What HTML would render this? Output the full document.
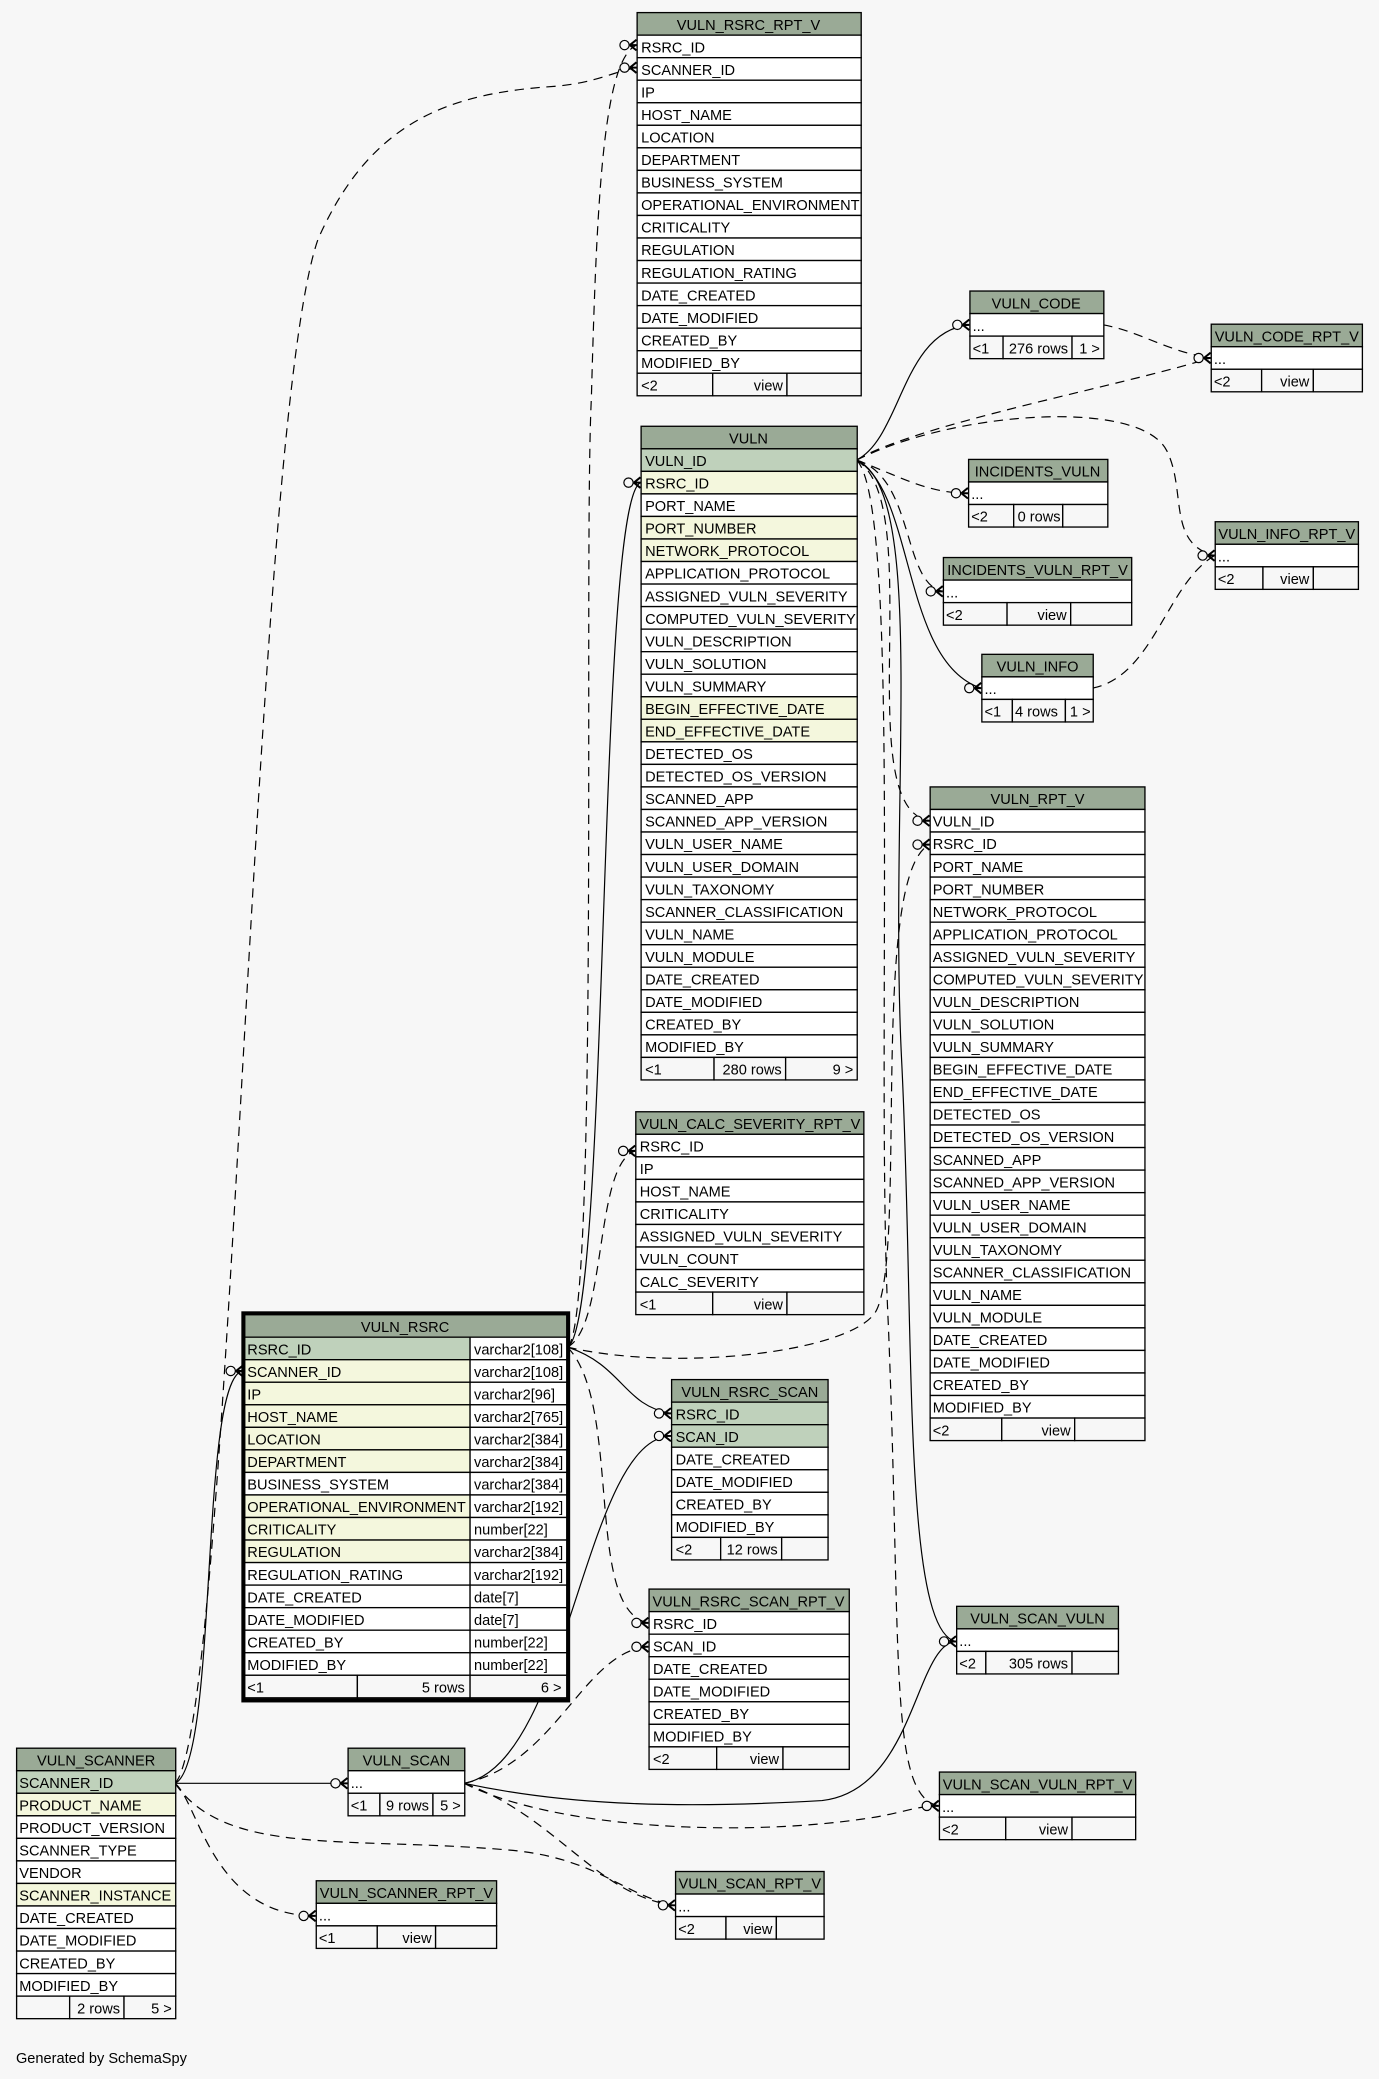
<!DOCTYPE html>
<html><head><meta charset="utf-8"><style>
html,body{margin:0;padding:0;background:#f7f7f7;}
svg{display:block;}
text{font-family:"Liberation Sans","DejaVu Sans",sans-serif;font-size:11px;fill:#000;}
.c{text-anchor:middle;}
.r{text-anchor:end;}
rect{stroke:#000;stroke-width:1;}
.h{fill:#9aaa96;}.p{fill:#bfd1bb;}.f{fill:#f4f7dd;}.w{fill:#fff;}.g{fill:#f7f7f7;}
path{fill:none;stroke:#000;stroke-width:0.9;}
.d{stroke-dasharray:7,5;}
</style></head><body>
<svg width="1379" height="2079" viewBox="0 0 1040 1568" xmlns="http://www.w3.org/2000/svg">
<defs>
<g id="cf"><circle cx="-9" cy="0" r="3.5" fill="#f7f7f7" stroke="#000" stroke-width="0.9"/><path d="M-5,0 L0,-4 M-5,0 L0,0 M-5,0 L0,4" style="stroke-width:1.5"/></g>
</defs>

<!-- connectors -->
<path class="d" d="M132,1345 C175,1300 190,320 240,180 C280,90 340,70 420,65 C450,62 460,55 480,51"/>
<path class="d" d="M428,1016 C452,1000 440,420 446,300 C450,150 455,45 480,34"/>
<path d="M428,1016 C460,1000 450,380 483,364"/>
<path class="d" d="M428,1016 C458,1000 448,878 479,868"/>
<path d="M428,1016 C470,1030 470,1060 506,1066"/>
<path class="d" d="M428,1016 C510,1035 640,1020 660,990 C685,950 655,660 701,637"/>
<path class="d" d="M428,1016 C470,1060 440,1215 489,1224"/>
<path d="M132,1345 C165,1330 150,1040 183,1034"/>
<path d="M132,1345 L262,1345"/>
<path class="d" d="M132,1345 C150,1360 160,1445 238,1445"/>
<path class="d" d="M132,1345 C170,1400 260,1385 380,1395 C450,1400 470,1430 509,1437"/>
<path d="M350,1345 C430,1330 440,1085 506,1083"/>
<path class="d" d="M350,1345 C420,1330 440,1245 489,1242"/>
<path class="d" d="M350,1345 C420,1370 450,1430 509,1437"/>
<path d="M350,1345 C420,1360 500,1365 620,1358 C690,1350 690,1240 721,1238"/>
<path class="d" d="M350,1345 C420,1380 560,1385 650,1372 C680,1368 690,1362 708,1362"/>
<path d="M646,347 C680,330 680,250 731,245"/>
<path d="M646,347 C690,370 680,500 740,519"/>
<path d="M646,347 C700,370 670,600 680,800 C690,1000 680,1230 721,1238"/>
<path class="d" d="M646,347 C690,320 850,290 913,270"/>
<path class="d" d="M832,245 C860,250 880,265 913,270"/>
<path class="d" d="M646,347 C680,360 700,372 730,372"/>
<path class="d" d="M646,347 C690,360 680,440 711,446"/>
<path class="d" d="M646,347 C720,310 860,300 880,340 C895,370 880,410 916,419"/>
<path class="d" d="M824,519 C870,510 880,440 916,419"/>
<path class="d" d="M646,347 C700,380 640,610 701,619"/>
<path class="d" d="M646,347 C680,380 660,800 670,1000 C680,1250 670,1355 708,1362"/>

<use href="#cf" x="480" y="51"/><use href="#cf" x="480" y="34"/><use href="#cf" x="483" y="364"/>
<use href="#cf" x="479" y="868"/><use href="#cf" x="506" y="1066"/><use href="#cf" x="506" y="1083"/>
<use href="#cf" x="701" y="637"/><use href="#cf" x="701" y="619"/><use href="#cf" x="489" y="1224"/><use href="#cf" x="489" y="1242"/>
<use href="#cf" x="183" y="1034"/><use href="#cf" x="262" y="1345"/><use href="#cf" x="238" y="1445"/>
<use href="#cf" x="509" y="1437"/><use href="#cf" x="721" y="1238"/><use href="#cf" x="708" y="1362"/>
<use href="#cf" x="731" y="245"/><use href="#cf" x="740" y="519"/><use href="#cf" x="913" y="270"/>
<use href="#cf" x="730" y="372"/><use href="#cf" x="711" y="446"/><use href="#cf" x="916" y="419"/>

<!-- VULN_RSRC_RPT_V -->
<g transform="translate(480.5,9.5)">
<rect class="h" width="169" height="17"/><text class="c" x="84" y="13">VULN_RSRC_RPT_V</text>
<rect class="w" y="17" width="169" height="17"/><text x="3" y="30">RSRC_ID</text>
<rect class="w" y="34" width="169" height="17"/><text x="3" y="47">SCANNER_ID</text>
<rect class="w" y="51" width="169" height="17"/><text x="3" y="64">IP</text>
<rect class="w" y="68" width="169" height="17"/><text x="3" y="81">HOST_NAME</text>
<rect class="w" y="85" width="169" height="17"/><text x="3" y="98">LOCATION</text>
<rect class="w" y="102" width="169" height="17"/><text x="3" y="115">DEPARTMENT</text>
<rect class="w" y="119" width="169" height="17"/><text x="3" y="132">BUSINESS_SYSTEM</text>
<rect class="w" y="136" width="169" height="17"/><text x="3" y="149">OPERATIONAL_ENVIRONMENT</text>
<rect class="w" y="153" width="169" height="17"/><text x="3" y="166">CRITICALITY</text>
<rect class="w" y="170" width="169" height="17"/><text x="3" y="183">REGULATION</text>
<rect class="w" y="187" width="169" height="17"/><text x="3" y="200">REGULATION_RATING</text>
<rect class="w" y="204" width="169" height="17"/><text x="3" y="217">DATE_CREATED</text>
<rect class="w" y="221" width="169" height="17"/><text x="3" y="234">DATE_MODIFIED</text>
<rect class="w" y="238" width="169" height="17"/><text x="3" y="251">CREATED_BY</text>
<rect class="w" y="255" width="169" height="17"/><text x="3" y="268">MODIFIED_BY</text>
<rect class="g" y="272" width="57" height="17"/><rect class="g" x="57" y="272" width="56" height="17"/><rect class="g" x="113" y="272" width="56" height="17"/>
<text x="3" y="285">&lt;2</text><text class="r" x="110" y="285">view</text>
</g>

<!-- VULN -->
<g transform="translate(483.5,321.5)">
<rect class="h" width="163" height="17"/><text class="c" x="81" y="13">VULN</text>
<rect class="p" y="17" width="163" height="17"/><text x="3" y="30">VULN_ID</text>
<rect class="f" y="34" width="163" height="17"/><text x="3" y="47">RSRC_ID</text>
<rect class="w" y="51" width="163" height="17"/><text x="3" y="64">PORT_NAME</text>
<rect class="f" y="68" width="163" height="17"/><text x="3" y="81">PORT_NUMBER</text>
<rect class="f" y="85" width="163" height="17"/><text x="3" y="98">NETWORK_PROTOCOL</text>
<rect class="w" y="102" width="163" height="17"/><text x="3" y="115">APPLICATION_PROTOCOL</text>
<rect class="w" y="119" width="163" height="17"/><text x="3" y="132">ASSIGNED_VULN_SEVERITY</text>
<rect class="w" y="136" width="163" height="17"/><text x="3" y="149">COMPUTED_VULN_SEVERITY</text>
<rect class="w" y="153" width="163" height="17"/><text x="3" y="166">VULN_DESCRIPTION</text>
<rect class="w" y="170" width="163" height="17"/><text x="3" y="183">VULN_SOLUTION</text>
<rect class="w" y="187" width="163" height="17"/><text x="3" y="200">VULN_SUMMARY</text>
<rect class="f" y="204" width="163" height="17"/><text x="3" y="217">BEGIN_EFFECTIVE_DATE</text>
<rect class="f" y="221" width="163" height="17"/><text x="3" y="234">END_EFFECTIVE_DATE</text>
<rect class="w" y="238" width="163" height="17"/><text x="3" y="251">DETECTED_OS</text>
<rect class="w" y="255" width="163" height="17"/><text x="3" y="268">DETECTED_OS_VERSION</text>
<rect class="w" y="272" width="163" height="17"/><text x="3" y="285">SCANNED_APP</text>
<rect class="w" y="289" width="163" height="17"/><text x="3" y="302">SCANNED_APP_VERSION</text>
<rect class="w" y="306" width="163" height="17"/><text x="3" y="319">VULN_USER_NAME</text>
<rect class="w" y="323" width="163" height="17"/><text x="3" y="336">VULN_USER_DOMAIN</text>
<rect class="w" y="340" width="163" height="17"/><text x="3" y="353">VULN_TAXONOMY</text>
<rect class="w" y="357" width="163" height="17"/><text x="3" y="370">SCANNER_CLASSIFICATION</text>
<rect class="w" y="374" width="163" height="17"/><text x="3" y="387">VULN_NAME</text>
<rect class="w" y="391" width="163" height="17"/><text x="3" y="404">VULN_MODULE</text>
<rect class="w" y="408" width="163" height="17"/><text x="3" y="421">DATE_CREATED</text>
<rect class="w" y="425" width="163" height="17"/><text x="3" y="438">DATE_MODIFIED</text>
<rect class="w" y="442" width="163" height="17"/><text x="3" y="455">CREATED_BY</text>
<rect class="w" y="459" width="163" height="17"/><text x="3" y="472">MODIFIED_BY</text>
<rect class="g" y="476" width="55" height="17"/><rect class="g" x="55" y="476" width="54" height="17"/><rect class="g" x="109" y="476" width="54" height="17"/>
<text x="3" y="489">&lt;1</text><text class="r" x="106" y="489">280 rows</text><text class="r" x="160" y="489">9 &gt;</text>
</g>

<!-- VULN_CALC_SEVERITY_RPT_V -->
<g transform="translate(479.5,838.5)">
<rect class="h" width="172" height="17"/><text class="c" x="86" y="13">VULN_CALC_SEVERITY_RPT_V</text>
<rect class="w" y="17" width="172" height="17"/><text x="3" y="30">RSRC_ID</text>
<rect class="w" y="34" width="172" height="17"/><text x="3" y="47">IP</text>
<rect class="w" y="51" width="172" height="17"/><text x="3" y="64">HOST_NAME</text>
<rect class="w" y="68" width="172" height="17"/><text x="3" y="81">CRITICALITY</text>
<rect class="w" y="85" width="172" height="17"/><text x="3" y="98">ASSIGNED_VULN_SEVERITY</text>
<rect class="w" y="102" width="172" height="17"/><text x="3" y="115">VULN_COUNT</text>
<rect class="w" y="119" width="172" height="17"/><text x="3" y="132">CALC_SEVERITY</text>
<rect class="g" y="136" width="58" height="17"/><rect class="g" x="58" y="136" width="56" height="17"/><rect class="g" x="114" y="136" width="58" height="17"/>
<text x="3" y="149">&lt;1</text><text class="r" x="111" y="149">view</text>
</g>

<!-- VULN_RSRC -->
<g transform="translate(184.5,991.5)">
<rect class="h" width="243" height="17"/><text class="c" x="121" y="13">VULN_RSRC</text>
<rect class="p" y="17" width="170" height="17"/><rect class="w" x="170" y="17" width="73" height="17"/><text x="2" y="30">RSRC_ID</text><text x="173" y="30">varchar2[108]</text>
<rect class="f" y="34" width="170" height="17"/><rect class="w" x="170" y="34" width="73" height="17"/><text x="2" y="47">SCANNER_ID</text><text x="173" y="47">varchar2[108]</text>
<rect class="f" y="51" width="170" height="17"/><rect class="w" x="170" y="51" width="73" height="17"/><text x="2" y="64">IP</text><text x="173" y="64">varchar2[96]</text>
<rect class="f" y="68" width="170" height="17"/><rect class="w" x="170" y="68" width="73" height="17"/><text x="2" y="81">HOST_NAME</text><text x="173" y="81">varchar2[765]</text>
<rect class="f" y="85" width="170" height="17"/><rect class="w" x="170" y="85" width="73" height="17"/><text x="2" y="98">LOCATION</text><text x="173" y="98">varchar2[384]</text>
<rect class="f" y="102" width="170" height="17"/><rect class="w" x="170" y="102" width="73" height="17"/><text x="2" y="115">DEPARTMENT</text><text x="173" y="115">varchar2[384]</text>
<rect class="w" y="119" width="170" height="17"/><rect class="w" x="170" y="119" width="73" height="17"/><text x="2" y="132">BUSINESS_SYSTEM</text><text x="173" y="132">varchar2[384]</text>
<rect class="f" y="136" width="170" height="17"/><rect class="w" x="170" y="136" width="73" height="17"/><text x="2" y="149">OPERATIONAL_ENVIRONMENT</text><text x="173" y="149">varchar2[192]</text>
<rect class="f" y="153" width="170" height="17"/><rect class="w" x="170" y="153" width="73" height="17"/><text x="2" y="166">CRITICALITY</text><text x="173" y="166">number[22]</text>
<rect class="f" y="170" width="170" height="17"/><rect class="w" x="170" y="170" width="73" height="17"/><text x="2" y="183">REGULATION</text><text x="173" y="183">varchar2[384]</text>
<rect class="w" y="187" width="170" height="17"/><rect class="w" x="170" y="187" width="73" height="17"/><text x="2" y="200">REGULATION_RATING</text><text x="173" y="200">varchar2[192]</text>
<rect class="w" y="204" width="170" height="17"/><rect class="w" x="170" y="204" width="73" height="17"/><text x="2" y="217">DATE_CREATED</text><text x="173" y="217">date[7]</text>
<rect class="w" y="221" width="170" height="17"/><rect class="w" x="170" y="221" width="73" height="17"/><text x="2" y="234">DATE_MODIFIED</text><text x="173" y="234">date[7]</text>
<rect class="w" y="238" width="170" height="17"/><rect class="w" x="170" y="238" width="73" height="17"/><text x="2" y="251">CREATED_BY</text><text x="173" y="251">number[22]</text>
<rect class="w" y="255" width="170" height="17"/><rect class="w" x="170" y="255" width="73" height="17"/><text x="2" y="268">MODIFIED_BY</text><text x="173" y="268">number[22]</text>
<rect class="g" y="272" width="85" height="17"/><rect class="g" x="85" y="272" width="85" height="17"/><rect class="g" x="170" y="272" width="73" height="17"/>
<text x="2" y="285">&lt;1</text><text class="r" x="166" y="285">5 rows</text><text class="r" x="239" y="285">6 &gt;</text>
<rect x="-1" y="-1" width="245" height="292" style="fill:none;stroke-width:3"/>
</g>

<!-- VULN_RSRC_SCAN -->
<g transform="translate(506.5,1040.5)">
<rect class="h" width="118" height="17"/><text class="c" x="59" y="13">VULN_RSRC_SCAN</text>
<rect class="p" y="17" width="118" height="17"/><text x="3" y="30">RSRC_ID</text>
<rect class="p" y="34" width="118" height="17"/><text x="3" y="47">SCAN_ID</text>
<rect class="w" y="51" width="118" height="17"/><text x="3" y="64">DATE_CREATED</text>
<rect class="w" y="68" width="118" height="17"/><text x="3" y="81">DATE_MODIFIED</text>
<rect class="w" y="85" width="118" height="17"/><text x="3" y="98">CREATED_BY</text>
<rect class="w" y="102" width="118" height="17"/><text x="3" y="115">MODIFIED_BY</text>
<rect class="g" y="119" width="37" height="17"/><rect class="g" x="37" y="119" width="46" height="17"/><rect class="g" x="83" y="119" width="35" height="17"/>
<text x="3" y="132">&lt;2</text><text class="r" x="80" y="132">12 rows</text>
</g>

<!-- VULN_RSRC_SCAN_RPT_V -->
<g transform="translate(489.5,1198.5)">
<rect class="h" width="151" height="17"/><text class="c" x="75" y="13">VULN_RSRC_SCAN_RPT_V</text>
<rect class="w" y="17" width="151" height="17"/><text x="3" y="30">RSRC_ID</text>
<rect class="w" y="34" width="151" height="17"/><text x="3" y="47">SCAN_ID</text>
<rect class="w" y="51" width="151" height="17"/><text x="3" y="64">DATE_CREATED</text>
<rect class="w" y="68" width="151" height="17"/><text x="3" y="81">DATE_MODIFIED</text>
<rect class="w" y="85" width="151" height="17"/><text x="3" y="98">CREATED_BY</text>
<rect class="w" y="102" width="151" height="17"/><text x="3" y="115">MODIFIED_BY</text>
<rect class="g" y="119" width="51" height="17"/><rect class="g" x="51" y="119" width="50" height="17"/><rect class="g" x="101" y="119" width="50" height="17"/>
<text x="3" y="132">&lt;2</text><text class="r" x="98" y="132">view</text>
</g>

<!-- VULN_SCANNER -->
<g transform="translate(12.5,1318.5)">
<rect class="h" width="120" height="17"/><text class="c" x="60" y="13">VULN_SCANNER</text>
<rect class="p" y="17" width="120" height="17"/><text x="2" y="30">SCANNER_ID</text>
<rect class="f" y="34" width="120" height="17"/><text x="2" y="47">PRODUCT_NAME</text>
<rect class="w" y="51" width="120" height="17"/><text x="2" y="64">PRODUCT_VERSION</text>
<rect class="w" y="68" width="120" height="17"/><text x="2" y="81">SCANNER_TYPE</text>
<rect class="w" y="85" width="120" height="17"/><text x="2" y="98">VENDOR</text>
<rect class="f" y="102" width="120" height="17"/><text x="2" y="115">SCANNER_INSTANCE</text>
<rect class="w" y="119" width="120" height="17"/><text x="2" y="132">DATE_CREATED</text>
<rect class="w" y="136" width="120" height="17"/><text x="2" y="149">DATE_MODIFIED</text>
<rect class="w" y="153" width="120" height="17"/><text x="2" y="166">CREATED_BY</text>
<rect class="w" y="170" width="120" height="17"/><text x="2" y="183">MODIFIED_BY</text>
<rect class="g" y="187" width="40" height="17"/><rect class="g" x="40" y="187" width="41" height="17"/><rect class="g" x="81" y="187" width="39" height="17"/>
<text class="r" x="78" y="200">2 rows</text><text class="r" x="117" y="200">5 &gt;</text>
</g>

<!-- VULN_SCAN -->
<g transform="translate(262.5,1318.5)">
<rect class="h" width="88" height="17"/><text class="c" x="44" y="13">VULN_SCAN</text>
<rect class="w" y="17" width="88" height="17"/><text x="2" y="30">...</text>
<rect class="g" y="34" width="24" height="17"/><rect class="g" x="24" y="34" width="40" height="17"/><rect class="g" x="64" y="34" width="24" height="17"/>
<text x="2" y="47">&lt;1</text><text class="r" x="61" y="47">9 rows</text><text class="r" x="85" y="47">5 &gt;</text>
</g>

<!-- VULN_SCANNER_RPT_V -->
<g transform="translate(238.5,1418.5)">
<rect class="h" width="136" height="17"/><text class="c" x="68" y="13">VULN_SCANNER_RPT_V</text>
<rect class="w" y="17" width="136" height="17"/><text x="2" y="30">...</text>
<rect class="g" y="34" width="46" height="17"/><rect class="g" x="46" y="34" width="44" height="17"/><rect class="g" x="90" y="34" width="46" height="17"/>
<text x="2" y="47">&lt;1</text><text class="r" x="87" y="47">view</text>
</g>

<!-- VULN_SCAN_RPT_V -->
<g transform="translate(509.5,1411.5)">
<rect class="h" width="112" height="17"/><text class="c" x="56" y="13">VULN_SCAN_RPT_V</text>
<rect class="w" y="17" width="112" height="17"/><text x="2" y="30">...</text>
<rect class="g" y="34" width="38" height="17"/><rect class="g" x="38" y="34" width="38" height="17"/><rect class="g" x="76" y="34" width="36" height="17"/>
<text x="2" y="47">&lt;2</text><text class="r" x="73" y="47">view</text>
</g>

<!-- VULN_SCAN_VULN -->
<g transform="translate(721.5,1211.5)">
<rect class="h" width="122" height="17"/><text class="c" x="61" y="13">VULN_SCAN_VULN</text>
<rect class="w" y="17" width="122" height="17"/><text x="2" y="30">...</text>
<rect class="g" y="34" width="22" height="17"/><rect class="g" x="22" y="34" width="65" height="17"/><rect class="g" x="87" y="34" width="35" height="17"/>
<text x="2" y="47">&lt;2</text><text class="r" x="84" y="47">305 rows</text>
</g>

<!-- VULN_SCAN_VULN_RPT_V -->
<g transform="translate(708.5,1336.5)">
<rect class="h" width="148" height="17"/><text class="c" x="74" y="13">VULN_SCAN_VULN_RPT_V</text>
<rect class="w" y="17" width="148" height="17"/><text x="2" y="30">...</text>
<rect class="g" y="34" width="50" height="17"/><rect class="g" x="50" y="34" width="50" height="17"/><rect class="g" x="100" y="34" width="48" height="17"/>
<text x="2" y="47">&lt;2</text><text class="r" x="97" y="47">view</text>
</g>

<!-- VULN_RPT_V -->
<g transform="translate(701.5,593.5)">
<rect class="h" width="162" height="17"/><text class="c" x="81" y="13">VULN_RPT_V</text>
<rect class="w" y="17" width="162" height="17"/><text x="2" y="30">VULN_ID</text>
<rect class="w" y="34" width="162" height="17"/><text x="2" y="47">RSRC_ID</text>
<rect class="w" y="51" width="162" height="17"/><text x="2" y="64">PORT_NAME</text>
<rect class="w" y="68" width="162" height="17"/><text x="2" y="81">PORT_NUMBER</text>
<rect class="w" y="85" width="162" height="17"/><text x="2" y="98">NETWORK_PROTOCOL</text>
<rect class="w" y="102" width="162" height="17"/><text x="2" y="115">APPLICATION_PROTOCOL</text>
<rect class="w" y="119" width="162" height="17"/><text x="2" y="132">ASSIGNED_VULN_SEVERITY</text>
<rect class="w" y="136" width="162" height="17"/><text x="2" y="149">COMPUTED_VULN_SEVERITY</text>
<rect class="w" y="153" width="162" height="17"/><text x="2" y="166">VULN_DESCRIPTION</text>
<rect class="w" y="170" width="162" height="17"/><text x="2" y="183">VULN_SOLUTION</text>
<rect class="w" y="187" width="162" height="17"/><text x="2" y="200">VULN_SUMMARY</text>
<rect class="w" y="204" width="162" height="17"/><text x="2" y="217">BEGIN_EFFECTIVE_DATE</text>
<rect class="w" y="221" width="162" height="17"/><text x="2" y="234">END_EFFECTIVE_DATE</text>
<rect class="w" y="238" width="162" height="17"/><text x="2" y="251">DETECTED_OS</text>
<rect class="w" y="255" width="162" height="17"/><text x="2" y="268">DETECTED_OS_VERSION</text>
<rect class="w" y="272" width="162" height="17"/><text x="2" y="285">SCANNED_APP</text>
<rect class="w" y="289" width="162" height="17"/><text x="2" y="302">SCANNED_APP_VERSION</text>
<rect class="w" y="306" width="162" height="17"/><text x="2" y="319">VULN_USER_NAME</text>
<rect class="w" y="323" width="162" height="17"/><text x="2" y="336">VULN_USER_DOMAIN</text>
<rect class="w" y="340" width="162" height="17"/><text x="2" y="353">VULN_TAXONOMY</text>
<rect class="w" y="357" width="162" height="17"/><text x="2" y="370">SCANNER_CLASSIFICATION</text>
<rect class="w" y="374" width="162" height="17"/><text x="2" y="387">VULN_NAME</text>
<rect class="w" y="391" width="162" height="17"/><text x="2" y="404">VULN_MODULE</text>
<rect class="w" y="408" width="162" height="17"/><text x="2" y="421">DATE_CREATED</text>
<rect class="w" y="425" width="162" height="17"/><text x="2" y="438">DATE_MODIFIED</text>
<rect class="w" y="442" width="162" height="17"/><text x="2" y="455">CREATED_BY</text>
<rect class="w" y="459" width="162" height="17"/><text x="2" y="472">MODIFIED_BY</text>
<rect class="g" y="476" width="54" height="17"/><rect class="g" x="54" y="476" width="55" height="17"/><rect class="g" x="109" y="476" width="53" height="17"/>
<text x="2" y="489">&lt;2</text><text class="r" x="106" y="489">view</text>
</g>

<!-- VULN_CODE -->
<g transform="translate(731.5,219.5)">
<rect class="h" width="101" height="17"/><text class="c" x="50" y="13">VULN_CODE</text>
<rect class="w" y="17" width="101" height="17"/><text x="2" y="30">...</text>
<rect class="g" y="34" width="25" height="17"/><rect class="g" x="25" y="34" width="52" height="17"/><rect class="g" x="77" y="34" width="24" height="17"/>
<text x="2" y="47">&lt;1</text><text class="r" x="74" y="47">276 rows</text><text class="r" x="98" y="47">1 &gt;</text>
</g>

<!-- VULN_CODE_RPT_V -->
<g transform="translate(913.5,244.5)">
<rect class="h" width="114" height="17"/><text class="c" x="57" y="13">VULN_CODE_RPT_V</text>
<rect class="w" y="17" width="114" height="17"/><text x="2" y="30">...</text>
<rect class="g" y="34" width="38" height="17"/><rect class="g" x="38" y="34" width="39" height="17"/><rect class="g" x="77" y="34" width="37" height="17"/>
<text x="2" y="47">&lt;2</text><text class="r" x="74" y="47">view</text>
</g>

<!-- INCIDENTS_VULN -->
<g transform="translate(730.5,346.5)">
<rect class="h" width="105" height="17"/><text class="c" x="52" y="13">INCIDENTS_VULN</text>
<rect class="w" y="17" width="105" height="17"/><text x="2" y="30">...</text>
<rect class="g" y="34" width="34" height="17"/><rect class="g" x="34" y="34" width="37" height="17"/><rect class="g" x="71" y="34" width="34" height="17"/>
<text x="2" y="47">&lt;2</text><text x="37" y="47">0 rows</text>
</g>

<!-- INCIDENTS_VULN_RPT_V -->
<g transform="translate(711.5,420.5)">
<rect class="h" width="142" height="17"/><text class="c" x="71" y="13">INCIDENTS_VULN_RPT_V</text>
<rect class="w" y="17" width="142" height="17"/><text x="2" y="30">...</text>
<rect class="g" y="34" width="48" height="17"/><rect class="g" x="48" y="34" width="48" height="17"/><rect class="g" x="96" y="34" width="46" height="17"/>
<text x="2" y="47">&lt;2</text><text class="r" x="93" y="47">view</text>
</g>

<!-- VULN_INFO_RPT_V -->
<g transform="translate(916.5,393.5)">
<rect class="h" width="108" height="17"/><text class="c" x="54" y="13">VULN_INFO_RPT_V</text>
<rect class="w" y="17" width="108" height="17"/><text x="2" y="30">...</text>
<rect class="g" y="34" width="36" height="17"/><rect class="g" x="36" y="34" width="38" height="17"/><rect class="g" x="74" y="34" width="34" height="17"/>
<text x="2" y="47">&lt;2</text><text class="r" x="71" y="47">view</text>
</g>

<!-- VULN_INFO -->
<g transform="translate(740.5,493.5)">
<rect class="h" width="84" height="17"/><text class="c" x="42" y="13">VULN_INFO</text>
<rect class="w" y="17" width="84" height="17"/><text x="2" y="30">...</text>
<rect class="g" y="34" width="23" height="17"/><rect class="g" x="23" y="34" width="40" height="17"/><rect class="g" x="63" y="34" width="21" height="17"/>
<text x="2" y="47">&lt;1</text><text x="25" y="47">4 rows</text><text class="r" x="82" y="47">1 &gt;</text>
</g>

<text x="12" y="1556">Generated by SchemaSpy</text>
</svg>
</body></html>
